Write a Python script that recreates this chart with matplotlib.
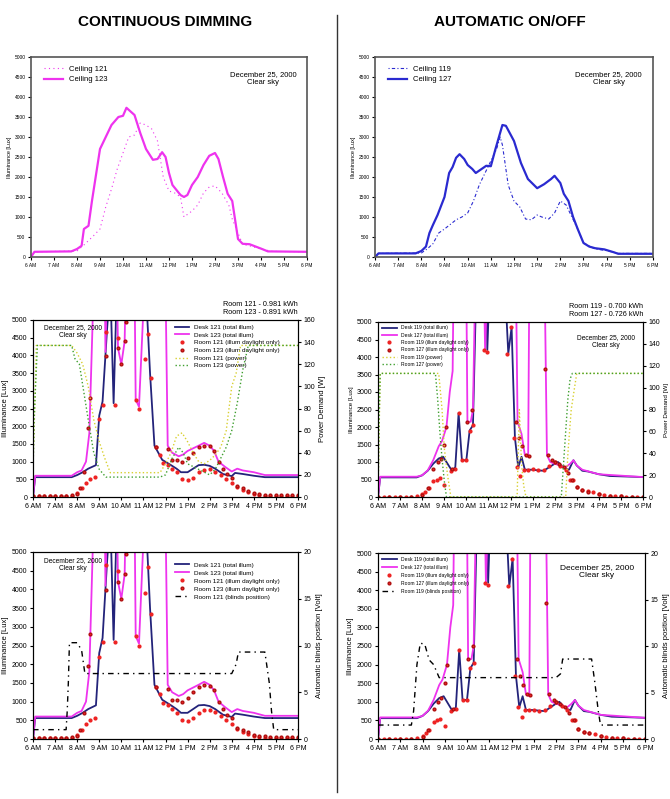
import matplotlib
matplotlib.use("Agg")
import matplotlib.pyplot as plt
from matplotlib.lines import Line2D

plt.rcParams['font.family'] = ['Liberation Sans', 'DejaVu Sans']

# ---------------- DATA ----------------
hour_ticks = list(range(6, 19))
hour_labels = ["6 AM", "7 AM", "8 AM", "9 AM", "10 AM", "11 AM", "12 PM",
               "1 PM", "2 PM", "3 PM", "4 PM", "5 PM", "6 PM"]

# Row 1 left: ceiling illuminance (continuous dimming)
t_c123 = [6.0, 6.15, 7.75, 8.0, 8.2, 8.3, 8.5, 8.65, 9.0, 9.5, 9.8, 10.0, 10.15, 10.5, 10.75, 11.0,
          11.3, 11.5, 11.7, 11.85, 12.0, 12.15, 12.5, 12.65, 12.8, 13.0, 13.25, 13.5, 13.75, 14.0,
          14.15, 14.35, 14.55, 14.75, 15.0, 15.2, 15.5, 16.0, 16.3, 18.0]
v_c123 = [0, 130, 140, 200, 280, 700, 780, 1400, 2700, 3300, 3500, 3530, 3730, 3550, 3100, 2700,
          2430, 2450, 2620, 2500, 2100, 1800, 1550, 1500, 1550, 1800, 2000, 2300, 2530, 2600,
          2450, 2000, 1580, 1400, 450, 330, 320, 210, 140, 130]
t_c121 = [6.0, 6.15, 8.0, 8.3, 8.7, 9.0, 9.25, 9.5, 9.75, 10.0, 10.25, 10.5, 10.75, 11.0, 11.25,
          11.5, 11.75, 12.0, 12.25, 12.5, 12.65, 13.0, 13.25, 13.5, 13.75, 14.0, 14.3, 14.6, 14.75,
          15.0, 15.2, 15.5, 16.0, 16.5, 18.0]
v_c121 = [0, 130, 150, 300, 520, 700, 1250, 1700, 2200, 2600, 3000, 3050, 3350, 3300, 3200,
          2900, 2000, 1650, 1600, 1500, 1000, 1150, 1300, 1600, 1750, 1780, 1600, 1300, 950,
          600, 320, 280, 200, 140, 130]

# Row 1 right: ceiling illuminance (automatic on/off)
t_c127 = [6.0, 6.15, 7.75, 8.0, 8.2, 8.35, 8.5, 8.7, 9.0, 9.2, 9.35, 9.5, 9.65, 9.85, 10.0, 10.2,
          10.35, 10.6, 10.8, 11.0, 11.2, 11.5, 11.65, 12.0, 12.3, 12.6, 13.0, 13.3, 13.6, 13.75,
          14.0, 14.15, 14.35, 14.55, 14.75, 15.0, 15.25, 15.5, 15.9, 16.3, 16.5, 18.0]
v_c127 = [0, 90, 90, 150, 260, 600, 800, 1050, 1500, 2100, 2250, 2480, 2570, 2450, 2300, 2200,
          2100, 2200, 2280, 2270, 2700, 3300, 3280, 2900, 2350, 1950, 1720, 1820, 1950, 2030,
          1850, 1580, 1400, 1000, 700, 350, 260, 220, 190, 120, 80, 80]
t_c119 = [6.0, 6.15, 8.0, 8.25, 8.5, 8.75, 9.0, 9.5, 9.75, 10.0, 10.25, 10.5, 10.75, 11.0, 11.25,
          11.4, 11.5, 11.75, 12.0, 12.25, 12.5, 12.75, 13.0, 13.2, 13.5, 13.75, 14.0, 14.25, 14.5,
          14.75, 15.0, 15.5, 16.0, 16.5, 18.0]
v_c119 = [0, 90, 100, 200, 330, 600, 700, 930, 1000, 1100, 1400, 1800, 2100, 2400, 2700,
          3000, 2800, 1800, 1400, 1250, 950, 930, 1050, 1000, 950, 1100, 1400, 1300, 1000,
          700, 350, 200, 160, 90, 90]

# Continuous dimming desks (rows 2 and 3 left)
t_d121 = [6.0, 6.1, 7.75, 8.0, 8.25, 8.5, 8.85, 9.0, 9.15, 9.35, 9.5, 9.65, 9.8, 11.1, 11.3, 11.5,
          11.85, 12.25, 12.5, 12.7, 13.0, 13.25, 13.5, 13.75, 14.0, 14.25, 14.6, 15.0, 15.15, 15.5,
          16.0, 16.5, 18.0]
v_d121 = [0, 560, 560, 620, 700, 800, 900, 2300, 2700, 4700, 6000, 2650, 6000, 6000, 3500, 1450,
          1050, 900, 800, 700, 700, 800, 900, 910, 880, 800, 650, 590, 680, 650,
          600, 560, 560]
t_d123 = [6.0, 6.1, 7.75, 8.0, 8.2, 8.4, 8.55, 8.75, 9.25, 9.28, 9.35, 9.8, 9.85, 10.0, 10.15, 10.2,
          10.6, 10.65, 10.8, 11.05, 12.0, 12.1, 12.3, 12.6, 12.8, 13.0, 13.5, 13.75, 14.0, 14.2,
          14.4, 14.7, 15.0, 15.25, 15.5, 16.0, 16.5, 18.0]
v_d123 = [0, 600, 600, 700, 750, 1000, 1800, 6000, 6000, 4100, 6000, 6000, 4200, 3750, 4400, 6000,
          6000, 2750, 2550, 6000, 6000, 1450, 1250, 1150, 1200, 1300, 1450, 1530, 1450, 1300,
          1000, 850, 720, 800, 750, 700, 620, 620]
t_r121 = [6.0, 6.25, 6.5, 6.75, 7.0, 7.25, 7.5, 7.75, 8.0, 8.2, 8.4, 8.6, 8.8, 9.0, 9.15, 9.3,
          9.7, 9.85, 10.65, 10.8, 11.05, 11.2, 11.35, 11.55, 11.75, 11.9, 12.1, 12.3, 12.5, 12.75,
          13.0, 13.25, 13.5, 13.75, 14.0, 14.25, 14.5, 14.75, 15.0, 15.25, 15.5, 15.75, 16.0,
          16.25, 16.5, 16.75, 17.0, 17.25, 17.5, 17.75, 18.0]
v_r121 = [30, 30, 30, 30, 30, 30, 30, 40, 100, 250, 400, 500, 570, 2200, 2600, 4650,
          2600, 4500, 2750, 2500, 3900, 4600, 3350, 1400, 1200, 950, 900, 800, 700, 500,
          470, 550, 700, 770, 780, 720, 620, 500, 400, 280, 200, 130, 80,
          60, 40, 40, 40, 40, 40, 40, 40]
t_r123 = [6.0, 6.25, 6.5, 6.75, 7.0, 7.25, 7.5, 7.75, 8.0, 8.15, 8.3, 8.5, 8.6, 9.3, 9.85, 10.0,
          10.15, 10.2, 11.55, 12.1, 12.3, 12.5, 12.75, 13.0, 13.25, 13.5, 13.75, 14.0, 14.2, 14.4,
          14.6, 14.8, 15.0, 15.25, 15.5, 15.75, 16.0, 16.25, 16.5, 16.75, 17.0, 17.25, 17.5,
          17.75, 18.0]
v_r123 = [30, 30, 30, 30, 30, 30, 30, 50, 80, 250, 700, 1950, 2800, 3990, 4200, 3750,
          4400, 4950, 1400, 1350, 1050, 1050, 1000, 1100, 1250, 1400, 1450, 1430, 1300, 1000,
          800, 650, 550, 300, 250, 180, 120, 90, 70, 60, 50, 50, 50,
          50, 50]
t_p121 = [6.0, 6.05, 6.15, 7.75, 8.0, 8.25, 8.5, 8.75, 9.0, 9.25, 9.5, 11.75, 12.0, 12.25, 12.5,
          12.75, 13.0, 13.25, 13.5, 13.75, 14.0, 14.25, 14.5, 14.75, 15.0, 15.2, 15.4, 18.0]
v_p121 = [30, 60, 137, 137, 130, 120, 100, 70, 50, 35, 22, 22, 30, 40, 55,
          58, 50, 40, 32, 30, 33, 38, 45, 60, 100, 112, 137, 137]
t_p123 = [6.0, 6.05, 6.15, 6.2, 7.75, 7.9, 8.1, 8.3, 8.5, 8.75, 9.0, 9.3, 11.75, 12.0, 12.3,
          12.6, 12.8, 13.0, 13.5, 14.0, 14.25, 14.5, 14.75, 15.0, 15.25, 15.5, 15.75, 18.0]
v_p123 = [20, 70, 115, 137, 137, 125, 120, 95, 70, 40, 25, 18, 18, 20, 35,
          45, 40, 30, 25, 20, 25, 35, 45, 60, 85, 115, 137, 137]

# Automatic on/off desks (rows 2 and 3 right)
t_d119 = [6.0, 6.1, 7.75, 8.0, 8.25, 8.5, 8.75, 8.95, 9.15, 9.35, 9.5, 9.65, 9.8, 10.0, 10.15,
          10.3, 10.45, 10.9, 10.95, 11.05, 11.75, 11.9, 12.05, 12.2, 12.35, 12.5, 12.65, 13.0,
          13.25, 13.5, 13.75, 14.0, 14.15, 14.3, 14.5, 14.65, 14.85, 15.0, 15.25, 15.5, 16.0,
          16.5, 18.0]
v_d119 = [0, 560, 560, 620, 750, 950, 1100, 1150, 950, 750, 850, 2400, 1050, 1050, 1900,
          2050, 6000, 6000, 4200, 6000, 6000, 4100, 4850, 1700, 850, 1150, 780, 780,
          760, 750, 850, 950, 1000, 900, 800, 780, 1050, 900, 750, 730, 650,
          600, 570]
t_d127 = [6.0, 6.1, 7.75, 8.0, 8.25, 8.5, 8.75, 8.9, 9.1, 9.25, 9.38, 9.42, 10.0, 10.05, 10.2,
          10.3, 10.4, 10.8, 10.85, 10.95, 12.25, 12.32, 12.5, 12.65, 12.8, 12.85, 13.55, 13.65,
          13.8, 14.0, 14.25, 14.5, 14.7, 14.85, 15.0, 15.25, 16.0, 18.0]
v_d127 = [0, 580, 580, 620, 760, 1050, 1450, 1600, 2000, 3000, 3600, 6000, 6000, 2150, 2150,
          2500, 6000, 6000, 4200, 6000, 6000, 2150, 1800, 1200, 1150, 6000, 6000, 1200,
          1000, 950, 900, 850, 950, 1050, 900, 780, 650, 570]
t_r119 = [6.0, 6.25, 6.5, 6.75, 7.0, 7.25, 7.5, 7.75, 8.0, 8.15, 8.3, 8.5, 8.65, 8.8, 9.0, 9.3,
          9.5, 9.65, 9.8, 10.0, 10.15, 10.3, 10.8, 10.95, 11.85, 12.0, 12.15, 12.3, 12.45, 12.6,
          12.8, 13.0, 13.25, 13.5, 13.75, 14.0, 14.25, 14.5, 14.7, 14.85, 15.0, 15.25, 15.5,
          15.75, 16.0, 16.25, 16.5, 16.75, 17.0, 17.25, 17.5, 17.75, 18.0]
v_r119 = [0, 0, 0, 0, 0, 0, 10, 20, 80, 150, 250, 450, 500, 550, 350, 750,
          800, 2400, 1050, 1050, 1900, 2050, 4200, 4150, 4100, 4850, 1700, 850, 600, 780,
          780, 790, 760, 770, 900, 1000, 900, 780, 500, 500, 280, 200, 160,
          130, 80, 60, 40, 30, 20, 10, 5, 0, 0]
t_r127 = [6.0, 6.5, 7.0, 7.5, 8.0, 8.25, 8.5, 8.7, 8.85, 9.0, 9.1, 9.35, 10.05, 10.25, 12.25,
          12.4, 12.5, 12.7, 12.85, 13.55, 13.7, 13.9, 14.0, 14.2, 14.4, 14.6, 14.8, 15.0, 15.25,
          15.5, 16.0, 16.5, 17.0, 17.5, 18.0]
v_r127 = [0, 0, 0, 10, 50, 250, 800, 1000, 1100, 1500, 2000, 800, 2150, 2500, 2150,
          1700, 1450, 1200, 1170, 3650, 1200, 1050, 1000, 950, 850, 700, 500, 280, 200,
          150, 80, 40, 20, 10, 0]
t_p119 = [6.0, 6.05, 6.1, 8.75, 8.9, 9.0, 9.15, 9.3, 12.3, 12.4, 12.5, 12.6, 12.7, 14.5, 14.6,
          14.75, 14.9, 15.0, 18.0]
v_p119 = [0, 60, 113, 113, 80, 45, 20, 0, 0, 80, 30, 10, 0, 0, 40,
          80, 100, 113, 113]
t_p127 = [6.0, 6.05, 6.1, 8.6, 8.7, 8.8, 8.9, 9.0, 9.1, 14.3, 14.4, 14.5, 14.6, 14.7, 14.8, 18.0]
v_p127 = [0, 70, 113, 113, 90, 60, 35, 15, 0, 0, 30, 60, 90, 108, 113, 113]

# Blinds position (row 3)
t_b121 = [6.0, 7.5, 7.55, 7.6, 7.65, 8.0, 8.2, 8.35, 8.5, 15.0, 15.2, 15.3, 16.5, 16.7, 16.8,
          16.9, 18.0]
v_b121 = [1, 1, 3, 6, 10.3, 10.3, 9.5, 7, 7, 7, 8, 9.3, 9.3, 6, 3, 1, 1]
t_b119 = [6.0, 7.5, 7.6, 7.75, 7.9, 8.1, 8.3, 8.5, 8.75, 14.0, 14.2, 14.3, 15.6, 15.75, 15.9,
          16.0, 18.0]
v_b119 = [1.5, 1.5, 3, 8, 10.3, 10.2, 8.5, 8, 6.6, 6.6, 7, 8.6, 8.6, 6, 3, 1.5, 1.5]

kwh_left = "Room 121 - 0.981 kWh\nRoom 123 - 0.891 kWh"
kwh_right = "Room 119 - 0.700 kWh\nRoom 127 - 0.726 kWh"
date_txt = "December 25, 2000\nClear sky"

# ---------------- STYLE ----------------
NAVY = "#23237a"
MAG = "#ee33ee"
BLUE = "#2a2ad0"
RED = "#ee2222"
YEL = "#d8d030"
GRN = "#3f9f2f"

W, H = 670, 799
fig = plt.figure(figsize=(W / 100, H / 100), dpi=100)


def rect(x0, y0, x1, y1):
    return [x0 / W, 1 - y1 / H, (x1 - x0) / W, (y1 - y0) / H]


def setup_x(ax, fs):
    ax.set_xlim(6, 18)
    ax.set_xticks(hour_ticks)
    ax.set_xticklabels(hour_labels, fontsize=fs)
    ax.tick_params(axis='x', length=2, pad=2)


def setup_illum(ax, fs, lfs):
    ax.set_ylim(0, 5000)
    ax.set_yticks(range(0, 5001, 500))
    ax.tick_params(axis='y', labelsize=fs, length=2, pad=2)
    ax.set_ylabel("Illuminance [Lux]", fontsize=lfs, labelpad=2)


# Titles and divider
fig.text(165 / W, 1 - 22 / H, "CONTINUOUS DIMMING", ha='center', va='center',
         fontsize=11, fontweight='bold')
fig.text(510 / W, 1 - 22 / H, "AUTOMATIC ON/OFF", ha='center', va='center',
         fontsize=11, fontweight='bold')
fig.add_artist(Line2D([337.5 / W, 337.5 / W], [1 - 15 / H, 1 - 792 / H], color='#333333', lw=1))

# ---------- Row 1 left ----------
ax = fig.add_axes(rect(31, 57, 307, 257))
ax.plot(t_c121, v_c121, color=MAG, lw=0.8, ls=(0, (1, 3)), label="Ceiling 121")
ax.plot(t_c123, v_c123, color=MAG, lw=1.6, label="Ceiling 123")
setup_x(ax, 3.5)
setup_illum(ax, 3.5, 4)
for s in ax.spines.values():
    s.set_linewidth(1.2)
    s.set_color('#555555')
ax.legend(loc='upper left', fontsize=5.5, frameon=False, bbox_to_anchor=(0.03, 0.98),
          handlelength=2.5, borderaxespad=0.2, labelspacing=0.4)
ax.text(0.84, 0.93, date_txt, transform=ax.transAxes, ha='center', va='top', fontsize=5.5)

# ---------- Row 1 right ----------
ax = fig.add_axes(rect(375, 57, 653, 257))
ax.plot(t_c119, v_c119, color=BLUE, lw=0.8, ls=(0, (1, 2, 3, 2)), label="Ceiling 119")
ax.plot(t_c127, v_c127, color=BLUE, lw=1.6, label="Ceiling 127")
setup_x(ax, 3.5)
setup_illum(ax, 3.5, 4)
for s in ax.spines.values():
    s.set_linewidth(1.2)
    s.set_color('#555555')
ax.legend(loc='upper left', fontsize=5.5, frameon=False, bbox_to_anchor=(0.03, 0.98),
          handlelength=2.5, borderaxespad=0.2, labelspacing=0.4)
ax.text(0.84, 0.93, date_txt, transform=ax.transAxes, ha='center', va='top', fontsize=5.5)


def desk_panel(box, d1, d2, r1, r2, names, fs, lfs):
    ax = fig.add_axes(box)
    h = []
    h += ax.plot(d1[0], d1[1], color=NAVY, lw=1.3, label=names[0])
    h += ax.plot(d2[0], d2[1], color=MAG, lw=1.3, label=names[1])
    h += ax.plot(r1[0], r1[1], ls='none', marker='o', ms=2.0, color=RED, mec=RED, label=names[2])
    h += ax.plot(r2[0], r2[1], ls='none', marker='o', ms=2.0, color=RED, mec='#b01010', label=names[3])
    setup_x(ax, fs)
    setup_illum(ax, fs, lfs)
    for s in ax.spines.values():
        s.set_linewidth(0.8)
    return ax, h


# ---------- Row 2 left ----------
ax, h = desk_panel(rect(33, 320, 298, 497), (t_d121, v_d121), (t_d123, v_d123),
                   (t_r121, v_r121), (t_r123, v_r123),
                   ["Desk 121 (total illum)", "Desk 123 (total illum)",
                    "Room 121 (illum daylight only)", "Room 123 (illum daylight only)"], 5, 5.5)
ax2 = ax.twinx()
h += ax2.plot(t_p121, v_p121, color=YEL, lw=1.0, ls=':', label="Room 121 (power)")
h += ax2.plot(t_p123, v_p123, color=GRN, lw=1.0, ls=':', label="Room 123 (power)")
ax2.set_ylim(0, 160)
ax2.set_yticks(range(0, 161, 20))
ax2.tick_params(axis='y', labelsize=5, length=2, pad=2)
ax2.set_ylabel("Power Demand [W]", fontsize=5.5, labelpad=3)
ax.legend(handles=h, loc='upper left', bbox_to_anchor=(0.52, 1.0), fontsize=4.6, frameon=False,
          handlelength=2.2, labelspacing=0.35, borderaxespad=0.3)
ax.text(0.15, 0.975, date_txt, transform=ax.transAxes, ha='center', va='top', fontsize=4.8)
ax.text(1.0, 1.02, kwh_left, transform=ax.transAxes, ha='right', va='bottom', fontsize=5.2)

# ---------- Row 2 right ----------
ax, h = desk_panel(rect(378, 322, 643, 497), (t_d119, v_d119), (t_d127, v_d127),
                   (t_r119, v_r119), (t_r127, v_r127),
                   ["Desk 119 (total illum)", "Desk 127 (total illum)",
                    "Room 119 (illum daylight only)", "Room 127 (illum daylight only)"], 5, 4.5)
ax2 = ax.twinx()
h += ax2.plot(t_p119, v_p119, color=YEL, lw=1.0, ls=':', label="Room 119 (power)")
h += ax2.plot(t_p127, v_p127, color=GRN, lw=1.0, ls=':', label="Room 127 (power)")
ax2.set_ylim(0, 160)
ax2.set_yticks(range(0, 161, 20))
ax2.tick_params(axis='y', labelsize=5, length=2, pad=2)
ax2.set_ylabel("Power Demand [W]", fontsize=4.5, labelpad=3)
ax.legend(handles=h, loc='upper left', bbox_to_anchor=(0.0, 1.0), fontsize=3.6, frameon=False,
          handlelength=3.0, labelspacing=0.45, borderaxespad=0.3)
ax.text(0.86, 0.93, date_txt, transform=ax.transAxes, ha='center', va='top', fontsize=4.8)
ax.text(1.0, 1.02, kwh_right, transform=ax.transAxes, ha='right', va='bottom', fontsize=5.2)

# ---------- Row 3 left ----------
ax, h = desk_panel(rect(33, 552, 298, 739), (t_d121, v_d121), (t_d123, v_d123),
                   (t_r121, v_r121), (t_r123, v_r123),
                   ["Desk 121 (total illum)", "Desk 123 (total illum)",
                    "Room 121 (illum daylight only)", "Room 123 (illum daylight only)"], 5, 5.5)
ax2 = ax.twinx()
h += ax2.plot(t_b121, v_b121, color='black', lw=1.0, ls=(0, (4, 3, 1, 3)),
              label="Room 121 (blinds position)")
ax2.set_ylim(0, 20)
ax2.set_yticks(range(0, 21, 5))
ax2.tick_params(axis='y', labelsize=5, length=2, pad=2)
ax2.set_ylabel("Automatic blinds position [Volt]", fontsize=5.5, labelpad=3)
ax.legend(handles=h, loc='upper left', bbox_to_anchor=(0.52, 0.97), fontsize=4.6, frameon=False,
          handlelength=2.2, labelspacing=0.4, borderaxespad=0.3)
ax.text(0.15, 0.975, date_txt, transform=ax.transAxes, ha='center', va='top', fontsize=4.8)

# ---------- Row 3 right ----------
ax, h = desk_panel(rect(378, 553, 645, 739), (t_d119, v_d119), (t_d127, v_d127),
                   (t_r119, v_r119), (t_r127, v_r127),
                   ["Desk 119 (total illum)", "Desk 127 (total illum)",
                    "Room 119 (illum daylight only)", "Room 127 (illum daylight only)"], 5, 5.5)
ax2 = ax.twinx()
h += ax2.plot(t_b119, v_b119, color='black', lw=1.0, ls=(0, (4, 3, 1, 3)),
              label="Room 119 (blinds position)")
ax2.set_ylim(0, 20)
ax2.set_yticks(range(0, 21, 5))
ax2.tick_params(axis='y', labelsize=5, length=2, pad=2)
ax2.set_ylabel("Automatic blinds position [Volt]", fontsize=5.5, labelpad=3)
ax.legend(handles=h, loc='upper left', bbox_to_anchor=(0.0, 1.0), fontsize=3.6, frameon=False,
          handlelength=3.0, labelspacing=0.6, borderaxespad=0.3)
ax.text(0.82, 0.94, date_txt, transform=ax.transAxes, ha='center', va='top', fontsize=6)

fig.savefig("out.png", dpi=100)
